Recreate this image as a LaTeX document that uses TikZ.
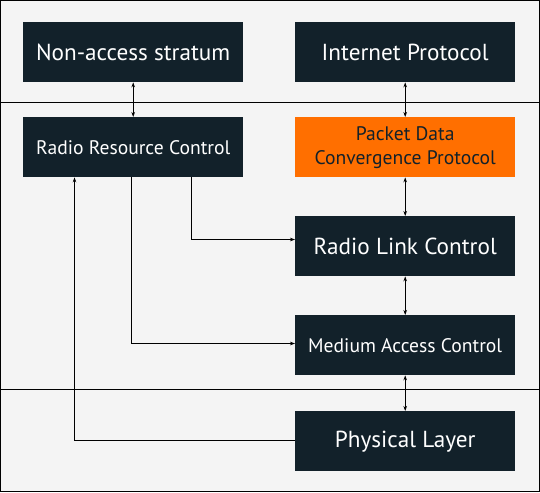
\documentclass[tikz,border=0pt]{standalone}
\usepackage{fontspec}
\setmainfont{PT Sans}
\usetikzlibrary{arrows.meta}
\definecolor{boxdark}{HTML}{12212A}
\definecolor{boxorange}{HTML}{FF6F00}
\definecolor{bgray}{HTML}{F4F4F4}
\tikzset{
  blk/.style={fill=boxdark, text=white, minimum width=220pt, minimum height=60pt, inner sep=0pt, anchor=north west, align=center},
  blkor/.style={blk, fill=boxorange, text=boxdark},
  big/.style={font=\fontsize{23.2}{26}\selectfont},
  small/.style={font=\fontsize{19.6}{24}\selectfont},
  arr/.style={line width=0.8pt, -{Stealth[length=5pt,width=3.6pt]}},
  darr/.style={line width=0.8pt, {Stealth[length=5pt,width=3.6pt]}-{Stealth[length=5pt,width=3.6pt]}},
  frame/.style={line width=1pt}
}
\begin{document}
\begin{tikzpicture}[x=1pt,y=-1pt]
\useasboundingbox (0,0) rectangle (540,492);
\fill[bgray] (0,0) rectangle (540,492);
\draw[frame] (0.5,0.5) rectangle (539.5,491.5);
\draw[frame] (0,102.5) -- (540,102.5);
\draw[frame] (0,389.5) -- (540,389.5);

\node[blk, big] (nas) at (23,22) {Non-access stratum};
\node[blk, big] (ip) at (295,22) {Internet Protocol};
\node[blk, small] (rrc) at (23,117) {Radio Resource Control};
\node[blkor, small] (pdcp) at (295,117) {Packet Data\\Convergence Protocol};
\node[blk, big] (rlc) at (295,216) {Radio Link Control};
\node[blk, small] (mac) at (295,315) {Medium Access Control};
\node[blk, big] (phy) at (295,411) {Physical Layer};

\draw[darr] (nas.south) -- (rrc.north);
\draw[darr] (ip.south) -- (pdcp.north);
\draw[darr] (pdcp.south) -- (rlc.north);
\draw[darr] (rlc.south) -- (mac.north);
\draw[darr] (mac.south) -- (phy.north);

\draw[arr] (rrc.south -| 191.7,0) |- (rlc.west |- 0,239.5);
\draw[arr] (rrc.south -| 131.7,0) |- (mac.west |- 0,343.5);
\draw[arr] (phy.west |- 0,440) -| (rrc.south -| 74.5,0);
\end{tikzpicture}
\end{document}
